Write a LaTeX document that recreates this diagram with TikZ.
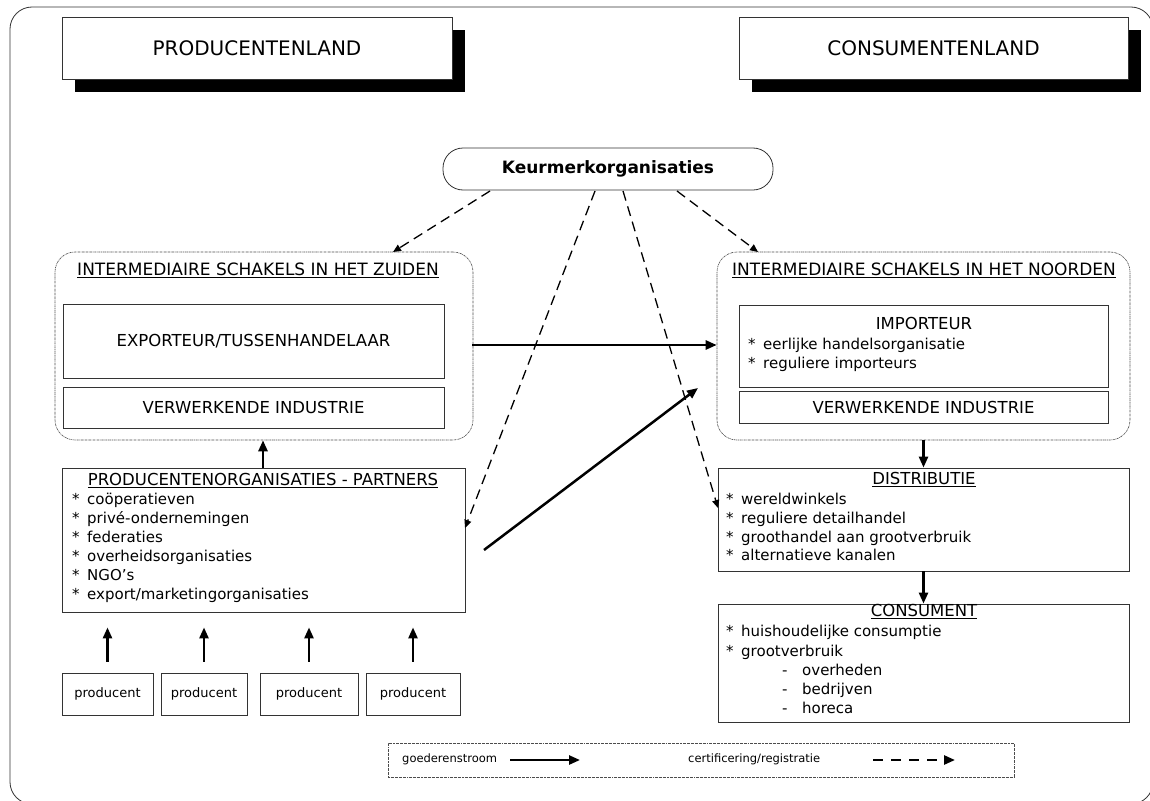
\documentclass[tikz,border=0pt]{standalone}
\usepackage{fontspec}
\setmainfont{DejaVu Sans}
\usetikzlibrary{arrows.meta,shadows}
\newcommand\bodyfont{\fontsize{15}{19}\selectfont}
\newcommand\capfont{\fontsize{16.5}{19}\selectfont}
\newcommand\ttlfont{\fontsize{17}{19}\selectfont}
\newcommand\legfont{\fontsize{11.5}{14}\selectfont}
\newcommand\itm[1]{\makebox[15pt][l]{*}#1}
\newcommand\sitm[1]{\makebox[20pt][l]{-}#1}
\begin{document}
\begin{tikzpicture}[x=1pt,y=-1pt,
  line/.style={draw=black!80, line width=0.8pt},
  box/.style={line, fill=white, inner sep=0pt},
  dotbox/.style={draw=black!70, line width=0.6pt, dash pattern=on 2pt off 0.7pt on 0.7pt off 0.7pt, inner sep=0pt},
  roundbox/.style={dotbox, rounded corners=20pt},
  titlebox/.style={box, line width=0.9pt, general shadow={fill=black, shadow xshift=13pt, shadow yshift=-13pt}, font=\fontsize{20}{24}\selectfont},
  flow/.style={line width=2.5pt, -{Triangle[length=11pt,width=9pt]}},
  cert/.style={line width=1.3pt, dash pattern=on 10pt off 6pt, -{Triangle[length=8pt,width=7pt]}},
  txt/.style={inner sep=0pt, anchor=mid west, font=\bodyfont},
  ctxt/.style={inner sep=0pt, anchor=mid, font=\capfont}
]
\useasboundingbox (0,0) rectangle (1150,800);
\draw[line, rounded corners=22pt] (10,7) rectangle (1153,804);

% titles
\node[titlebox, minimum width=390pt, minimum height=62pt] (pland) at (257,48) {PRODUCENTENLAND};
\node[titlebox, minimum width=389pt, minimum height=62pt] (cland) at (933.5,48) {CONSUMENTENLAND};

% keurmerk
\node[line, rounded corners=20pt, minimum width=330pt, minimum height=42pt, inner sep=0pt, font=\fontsize{17}{20}\selectfont\bfseries] (keur) at (608,169) {Keurmerkorganisaties};

% south intermediaries
\node[roundbox, minimum width=418pt, minimum height=188pt] (zuiden) at (264,346) {};
\node[ctxt, font=\ttlfont] (zt) at (258,273) {\underline{INTERMEDIAIRE SCHAKELS IN HET ZUIDEN}};
\node[box, minimum width=381pt, minimum height=74pt, font=\capfont] (export) at (253.5,341) {EXPORTEUR/TUSSENHANDELAAR};
\node[box, minimum width=381pt, minimum height=41pt, font=\capfont] (verwz) at (253.5,407.5) {VERWERKENDE INDUSTRIE};

% north intermediaries
\node[roundbox, minimum width=413pt, minimum height=188pt] (noord) at (923.5,346) {};
\node[ctxt, font=\ttlfont] (nt) at (924,273) {\underline{INTERMEDIAIRE SCHAKELS IN HET NOORDEN}};
\node[box, minimum width=369pt, minimum height=82pt] (import) at (923.5,346) {};
\node[ctxt] (it) at (924,327) {IMPORTEUR};
\node[txt] (i1) at (748,347) {\itm{eerlijke handelsorganisatie}};
\node[txt] (i2) at (748,366) {\itm{reguliere importeurs}};
\node[box, minimum width=369pt, minimum height=32pt, font=\capfont] (verwn) at (923.5,407) {VERWERKENDE INDUSTRIE};

% producer organisations
\node[box, minimum width=403pt, minimum height=144pt] (org) at (263.5,540) {};
\node[ctxt] (ot) at (263,483) {\underline{PRODUCENTENORGANISATIES - PARTNERS}};
\foreach \t [count=\i] in {coöperatieven, privé-ondernemingen, federaties, overheidsorganisaties, NGO's, export/marketingorganisaties}
  \node[txt] (o\i) at (72,{502+(\i-1)*19}) {\itm{\t}};

% producers
\foreach \cx/\w [count=\i] in {107.5/91, 204/86, 309/98, 413/94}{
  \node[box, minimum width=\w pt, minimum height=42pt, font=\fontsize{13}{16}\selectfont] (p\i) at (\cx,694) {producent};
  \draw[flow, shorten <=11pt, shorten >=15pt] (p\i.north) -- (p\i.north |- org.south);
}

% distribution
\node[box, minimum width=411pt, minimum height=103pt] (distr) at (923.5,519.5) {};
\node[ctxt] (dt) at (924,482) {\underline{DISTRIBUTIE}};
\foreach \t [count=\i] in {wereldwinkels, reguliere detailhandel, groothandel aan grootverbruik, alternatieve kanalen}
  \node[txt] (d\i) at (726,{502+(\i-1)*18.7}) {\itm{\t}};

% consumer
\node[box, minimum width=411pt, minimum height=118pt] (cons) at (923.5,663) {};
\node[ctxt] (ct) at (924,614) {\underline{CONSUMENT}};
\node[txt] (c1) at (726,634) {\itm{huishoudelijke consumptie}};
\node[txt] (c2) at (726,654) {\itm{grootverbruik}};
\node[txt] (c3) at (782,673) {\sitm{overheden}};
\node[txt] (c4) at (782,692) {\sitm{bedrijven}};
\node[txt] (c5) at (782,711) {\sitm{horeca}};

% goods flow
\draw[flow] (org.north -| 263,0) -- (zuiden.south -| 263,0);
\draw[flow] (noord.south) -- (distr.north);
\draw[flow] (distr.south) -- (cons.north);
\coordinate (hA) at (472,345);
\draw[flow] (hA) -- (hA -| noord.west);
\coordinate (dA) at (484,550);
\coordinate (dB) at (698,388);
\draw[flow] (dA) -- (dB);

% certification
\coordinate (k1) at (490,191);
\coordinate (k2) at (595,191);
\coordinate (k3) at (623,191);
\coordinate (k4) at (677,191);
\coordinate (e1) at (393,252);
\coordinate (e2) at (465,528);
\coordinate (e3) at (718,508);
\coordinate (e4) at (758,252);
\draw[cert] (k1) -- (e1);
\draw[cert] (k2) -- (e2);
\draw[cert] (k3) -- (e3);
\draw[cert] (k4) -- (e4);

% legend
\node[dotbox, minimum width=626pt, minimum height=34pt] (legend) at (701,760) {};
\node[txt, font=\legfont] (lg) at (402,760) {goederenstroom};
\node[txt, font=\legfont] (lc) at (688,760) {certificering/registratie};
\coordinate (la) at (510,760);
\coordinate (lb) at (580,760);
\coordinate (lcA) at (873,760);
\coordinate (lcB) at (955,760);
\draw[flow] (la) -- (lb);
\draw[line width=2.5pt, dash pattern=on 10pt off 8pt, -{Triangle[length=11pt,width=9pt]}] (lcA) -- (lcB);
\end{tikzpicture}
\end{document}
